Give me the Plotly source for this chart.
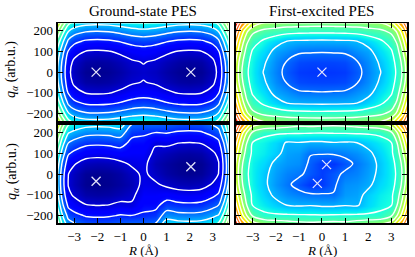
import plotly.graph_objects as go

# ---------------- data ----------------
R_grid = [-3.75, -3.5, -3.25, -3.0, -2.5, -2.0, -1.5, -1.0, -0.5, 0.0,
          0.5, 1.0, 1.5, 2.0, 2.5, 3.0, 3.25, 3.5, 3.75]
q_grid = [-250, -200, -150, -100, -50, 0, 50, 100, 150, 200, 250]

# rows follow q_grid, columns follow R_grid
ground_uncoupled = [
    [8.66, 7.06, 5.66, 5.11, 4.71, 4.64, 4.70, 4.91, 5.18, 5.32, 5.18, 4.91, 4.70, 4.64, 4.71, 5.11, 5.66, 7.06, 8.66],
    [7.06, 5.46, 4.06, 3.51, 3.11, 3.04, 3.10, 3.31, 3.58, 3.72, 3.58, 3.31, 3.10, 3.04, 3.11, 3.51, 4.06, 5.46, 7.06],
    [5.81, 4.21, 2.81, 2.26, 1.86, 1.79, 1.85, 2.06, 2.33, 2.47, 2.33, 2.06, 1.85, 1.79, 1.86, 2.26, 2.81, 4.21, 5.81],
    [4.91, 3.31, 1.91, 1.36, 0.96, 0.89, 0.95, 1.16, 1.43, 1.57, 1.43, 1.16, 0.95, 0.89, 0.96, 1.36, 1.91, 3.31, 4.91],
    [4.38, 2.78, 1.38, 0.83, 0.43, 0.36, 0.42, 0.63, 0.90, 1.04, 0.90, 0.63, 0.42, 0.36, 0.43, 0.83, 1.38, 2.78, 4.38],
    [4.20, 2.60, 1.20, 0.65, 0.25, 0.18, 0.24, 0.45, 0.72, 0.86, 0.72, 0.45, 0.24, 0.18, 0.25, 0.65, 1.20, 2.60, 4.20],
    [4.38, 2.78, 1.38, 0.83, 0.43, 0.36, 0.42, 0.63, 0.90, 1.04, 0.90, 0.63, 0.42, 0.36, 0.43, 0.83, 1.38, 2.78, 4.38],
    [4.91, 3.31, 1.91, 1.36, 0.96, 0.89, 0.95, 1.16, 1.43, 1.57, 1.43, 1.16, 0.95, 0.89, 0.96, 1.36, 1.91, 3.31, 4.91],
    [5.81, 4.21, 2.81, 2.26, 1.86, 1.79, 1.85, 2.06, 2.33, 2.47, 2.33, 2.06, 1.85, 1.79, 1.86, 2.26, 2.81, 4.21, 5.81],
    [7.06, 5.46, 4.06, 3.51, 3.11, 3.04, 3.10, 3.31, 3.58, 3.72, 3.58, 3.31, 3.10, 3.04, 3.11, 3.51, 4.06, 5.46, 7.06],
    [8.66, 7.06, 5.66, 5.11, 4.71, 4.64, 4.70, 4.91, 5.18, 5.32, 5.18, 4.91, 4.70, 4.64, 4.71, 5.11, 5.66, 7.06, 8.66],
]

excited_uncoupled = [
    [12.4, 10.6, 9.5, 8.2, 7.29, 7.14, 7.0, 6.94, 6.9, 6.87, 6.9, 6.94, 7.0, 7.14, 7.29, 8.2, 9.5, 10.6, 12.4],
    [10.8, 8.75, 7.2, 6.25, 5.76, 5.56, 5.4, 5.33, 5.3, 5.29, 5.3, 5.33, 5.4, 5.56, 5.76, 6.25, 7.2, 8.75, 10.8],
    [9.6, 7.7, 6.18, 5.4, 4.82, 4.38, 3.98, 3.88, 3.85, 3.83, 3.85, 3.88, 3.98, 4.38, 4.82, 5.4, 6.18, 7.7, 9.6],
    [8.7, 7.0, 5.56, 4.9, 4.46, 3.72, 3.46, 3.12, 3.08, 3.05, 3.08, 3.12, 3.46, 3.72, 4.46, 4.9, 5.56, 7.0, 8.7],
    [8.1, 6.36, 5.21, 4.73, 4.11, 3.41, 2.94, 2.56, 2.5, 2.49, 2.5, 2.56, 2.94, 3.41, 4.11, 4.73, 5.21, 6.36, 8.1],
    [7.9, 6.15, 5.1, 4.67, 3.93, 3.3, 2.75, 2.37, 2.32, 2.3, 2.32, 2.37, 2.75, 3.3, 3.93, 4.67, 5.1, 6.15, 7.9],
    [8.1, 6.36, 5.21, 4.73, 4.11, 3.41, 2.94, 2.56, 2.5, 2.49, 2.5, 2.56, 2.94, 3.41, 4.11, 4.73, 5.21, 6.36, 8.1],
    [8.7, 7.0, 5.56, 4.9, 4.46, 3.72, 3.46, 3.12, 3.08, 3.05, 3.08, 3.12, 3.46, 3.72, 4.46, 4.9, 5.56, 7.0, 8.7],
    [9.6, 7.7, 6.18, 5.4, 4.82, 4.38, 3.98, 3.88, 3.85, 3.83, 3.85, 3.88, 3.98, 4.38, 4.82, 5.4, 6.18, 7.7, 9.6],
    [10.8, 8.75, 7.2, 6.25, 5.76, 5.56, 5.4, 5.33, 5.3, 5.29, 5.3, 5.33, 5.4, 5.56, 5.76, 6.25, 7.2, 8.75, 10.8],
    [12.4, 10.6, 9.5, 8.2, 7.29, 7.14, 7.0, 6.94, 6.9, 6.87, 6.9, 6.94, 7.0, 7.14, 7.29, 8.2, 9.5, 10.6, 12.4],
]

ground_coupled = [
    [6.90, 5.00, 3.63, 3.30, 2.90, 2.82, 2.87, 3.05, 3.20, 3.10, 3.20, 4.83, 4.65, 4.60, 4.68, 5.08, 5.41, 6.78, 8.68],
    [5.92, 4.02, 2.65, 2.32, 1.92, 1.84, 1.89, 2.07, 2.02, 2.15, 2.30, 3.51, 3.33, 3.28, 3.36, 3.76, 4.09, 5.46, 7.36],
    [5.05, 3.15, 1.78, 1.45, 1.05, 0.97, 1.02, 1.20, 1.10, 1.70, 1.72, 2.43, 2.25, 2.20, 2.28, 2.68, 3.01, 4.38, 6.28],
    [4.47, 2.57, 1.20, 0.87, 0.47, 0.39, 0.44, 0.62, 0.83, 1.40, 1.40, 1.53, 1.35, 1.30, 1.38, 1.78, 2.11, 3.48, 5.38],
    [4.22, 2.32, 0.95, 0.62, 0.22, 0.14, 0.19, 0.37, 0.60, 1.20, 1.12, 0.82, 0.64, 0.59, 0.67, 1.07, 1.40, 2.77, 4.67],
    [4.28, 2.38, 1.01, 0.68, 0.28, 0.20, 0.25, 0.43, 0.75, 1.15, 0.75, 0.43, 0.25, 0.20, 0.28, 0.68, 1.01, 2.38, 4.28],
    [4.67, 2.77, 1.40, 1.07, 0.67, 0.59, 0.64, 0.82, 1.12, 1.20, 0.60, 0.37, 0.19, 0.14, 0.22, 0.62, 0.95, 2.32, 4.22],
    [5.38, 3.48, 2.11, 1.78, 1.38, 1.30, 1.35, 1.53, 1.40, 1.40, 0.83, 0.62, 0.44, 0.39, 0.47, 0.87, 1.20, 2.57, 4.47],
    [6.28, 4.38, 3.01, 2.68, 2.28, 2.20, 2.25, 2.43, 1.72, 1.70, 1.10, 1.20, 1.02, 0.97, 1.05, 1.45, 1.78, 3.15, 5.05],
    [7.36, 5.46, 4.09, 3.76, 3.36, 3.28, 3.33, 3.51, 2.30, 2.15, 2.02, 2.07, 1.89, 1.84, 1.92, 2.32, 2.65, 4.02, 5.92],
    [8.68, 6.78, 5.41, 5.08, 4.68, 4.60, 4.65, 4.83, 3.20, 3.10, 3.20, 3.05, 2.87, 2.82, 2.90, 3.30, 3.63, 5.00, 6.90],
]

excited_coupled = [
    [12.3, 10.5, 9.3, 7.9, 7.3, 7.0, 6.8, 6.6, 6.5, 6.6, 6.7, 6.6, 6.9, 7.2, 7.4, 7.9, 9.3, 10.5, 12.3],
    [10.7, 8.6, 7.0, 5.9, 5.2, 5.15, 5.15, 5.12, 5.1, 5.08, 5.1, 5.12, 5.15, 5.15, 5.2, 5.9, 7.0, 8.6, 10.7],
    [9.5, 7.5, 6.0, 4.95, 4.65, 4.3, 3.98, 3.9, 3.95, 3.85, 3.85, 3.95, 3.9, 4.4, 4.75, 4.95, 6.0, 7.5, 9.5],
    [8.6, 6.9, 5.5, 4.85, 4.35, 3.8, 3.45, 3.25, 3.1, 3.08, 3.05, 3.6, 3.7, 4.25, 4.65, 4.85, 5.5, 6.9, 8.6],
    [8.1, 6.3, 5.2, 4.72, 4.18, 3.55, 3.15, 2.7, 2.3, 2.35, 2.85, 3.45, 3.55, 3.8, 4.4, 4.72, 5.2, 6.3, 8.1],
    [7.9, 6.15, 5.1, 4.7, 4.2, 3.65, 3.3, 3.15, 2.75, 2.4, 2.75, 3.15, 3.3, 3.65, 4.2, 4.7, 5.1, 6.15, 7.9],
    [8.1, 6.3, 5.2, 4.72, 4.4, 3.8, 3.55, 3.45, 2.85, 2.35, 2.3, 2.7, 3.15, 3.55, 4.18, 4.72, 5.2, 6.3, 8.1],
    [8.6, 6.9, 5.5, 4.85, 4.65, 4.25, 3.7, 3.6, 3.05, 3.08, 3.1, 3.25, 3.45, 3.8, 4.35, 4.85, 5.5, 6.9, 8.6],
    [9.5, 7.5, 6.0, 4.95, 4.75, 4.4, 3.9, 3.95, 3.85, 3.85, 3.95, 3.9, 3.98, 4.3, 4.65, 4.95, 6.0, 7.5, 9.5],
    [10.7, 8.6, 7.0, 5.9, 5.2, 5.15, 5.15, 5.12, 5.1, 5.08, 5.1, 5.12, 5.15, 5.15, 5.2, 5.9, 7.0, 8.6, 10.7],
    [12.3, 10.5, 9.3, 7.9, 7.4, 7.2, 6.9, 6.6, 6.7, 6.6, 6.5, 6.6, 6.8, 7.0, 7.3, 7.9, 9.3, 10.5, 12.3],
]

# minima (x markers)
min_R_ground = [-2.05, 2.05]
min_q_ground = [0, 0]
min_R_excited = [0.0]
min_q_excited = [0]
min_R_ground_c = [-2.05, 2.05]
min_q_ground_c = [-35, 35]
min_R_excited_c = [-0.2, 0.2]
min_q_excited_c = [-45, 45]

titles = ["Ground-state PES", "First-excited PES"]
x_ticks = [-3, -2, -1, 0, 1, 2, 3]
y_ticks = [-200, -100, 0, 100, 200]
x_label = "<i>R</i> (Å)"
y_label = "<i>q</i><sub><i>α</i></sub> (arb.u.)"

# ---------------- style ----------------
jet = [
    [0.0, "rgb(0,0,128)"], [0.11, "rgb(0,0,255)"], [0.125, "rgb(0,0,255)"],
    [0.34, "rgb(0,219,255)"], [0.35, "rgb(0,229,247)"], [0.375, "rgb(21,255,226)"],
    [0.64, "rgb(238,255,8)"], [0.65, "rgb(247,246,0)"], [0.66, "rgb(255,236,0)"],
    [0.89, "rgb(255,19,0)"], [0.91, "rgb(232,0,0)"], [1.0, "rgb(128,0,0)"],
]
FONT = "Liberation Serif"
W, H = 415, 257


def fx(px):
    return px / W


def fy(py):
    return 1 - py / H


left_dom = [fx(57.5), fx(228.5)]
right_dom = [fx(236.0), fx(407.0)]
top_dom = [fy(121.0), fy(23.3)]
bot_dom = [fy(223.3), fy(124.7)]

fig = go.Figure()

panels = [
    (ground_uncoupled, "x", "y", min_R_ground, min_q_ground),
    (excited_uncoupled, "x2", "y2", min_R_excited, min_q_excited),
    (ground_coupled, "x3", "y3", min_R_ground_c, min_q_ground_c),
    (excited_coupled, "x4", "y4", min_R_excited_c, min_q_excited_c),
]
for z, xa, ya, mR, mq in panels:
    fig.add_trace(go.Contour(
        x=R_grid, y=q_grid, z=z, xaxis=xa, yaxis=ya,
        colorscale=jet, zmin=0, zmax=13, zauto=False, showscale=False,
        contours=dict(start=1, end=12, size=1, coloring="heatmap", showlabels=False),
        line=dict(color="white", width=1.4, smoothing=1.0),
        hoverinfo="skip",
    ))
    fig.add_trace(go.Scatter(
        x=mR, y=mq, xaxis=xa, yaxis=ya, mode="markers", showlegend=False,
        marker=dict(symbol="x-thin", size=9,
                    line=dict(width=1.3, color="rgba(236,236,255,0.95)")),
        hoverinfo="skip",
    ))

ax_common = dict(
    showline=True, linecolor="black", linewidth=1.8, mirror="allticks",
    ticks="inside", ticklen=5, tickwidth=1, tickcolor="black",
    showgrid=False, zeroline=False,
    tickfont=dict(family=FONT, size=13, color="black"),
)
xr = [-3.72, 3.68]
yr = [-237, 237]

fig.update_layout(
    width=W, height=H, margin=dict(l=0, r=0, t=0, b=0),
    paper_bgcolor="white", plot_bgcolor="white", showlegend=False,
    xaxis=dict(domain=left_dom, anchor="y", range=xr, tickvals=x_ticks, showticklabels=False, **ax_common),
    xaxis2=dict(domain=right_dom, anchor="y2", range=xr, tickvals=x_ticks, showticklabels=False, **ax_common),
    xaxis3=dict(domain=left_dom, anchor="y3", range=xr, tickvals=x_ticks, showticklabels=True, **ax_common),
    xaxis4=dict(domain=right_dom, anchor="y4", range=xr, tickvals=x_ticks, showticklabels=True, **ax_common),
    yaxis=dict(domain=top_dom, anchor="x", range=yr, tickvals=y_ticks, showticklabels=True, **ax_common),
    yaxis2=dict(domain=top_dom, anchor="x2", range=yr, tickvals=y_ticks, showticklabels=False, **ax_common),
    yaxis3=dict(domain=bot_dom, anchor="x3", range=yr, tickvals=y_ticks, showticklabels=True, **ax_common),
    yaxis4=dict(domain=bot_dom, anchor="x4", range=yr, tickvals=y_ticks, showticklabels=False, **ax_common),
)

ann = []
for txt, cx in zip(titles, [143.0, 321.5]):
    ann.append(dict(text=txt, x=fx(cx), y=fy(11.0), xref="paper", yref="paper",
                    xanchor="center", yanchor="middle", showarrow=False,
                    font=dict(family=FONT, size=15, color="black")))
for cx in [143.0, 321.5]:
    ann.append(dict(text=x_label, x=fx(cx), y=fy(250.0), xref="paper", yref="paper",
                    xanchor="center", yanchor="middle", showarrow=False,
                    font=dict(family=FONT, size=13, color="black")))
for cy in [70.0, 172.0]:
    ann.append(dict(text=y_label, x=fx(12.0), y=fy(cy), xref="paper", yref="paper",
                    xanchor="center", yanchor="middle", showarrow=False, textangle=-90,
                    font=dict(family=FONT, size=14, color="black")))
fig.update_layout(annotations=ann)

fig.write_html(
    "out.html",
    config={"displayModeBar": False, "staticPlot": True},
    post_script="document.body.style.margin='0px';document.body.style.padding='0px';",
)
